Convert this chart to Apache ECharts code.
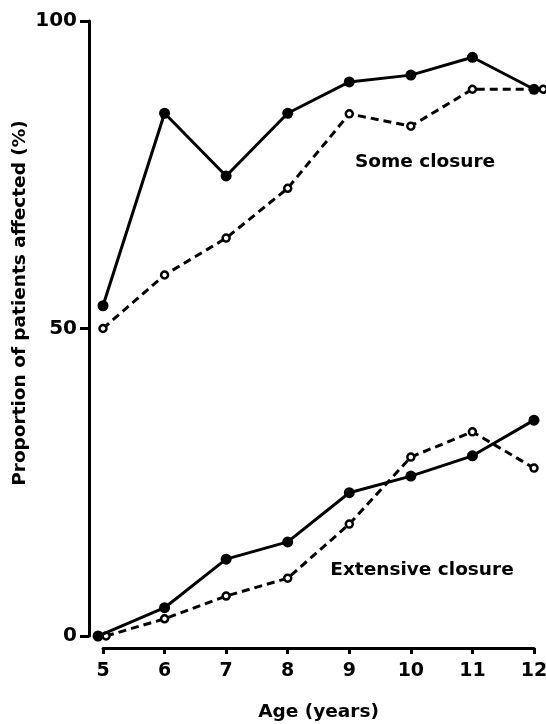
<!DOCTYPE html>
<html>
<head>
<meta charset="utf-8">
<script src="https://cdn.jsdelivr.net/npm/echarts@6/dist/echarts.min.js"></script>
<style>
  html, body { margin: 0; padding: 0; background: #fff; }
  #chart { width: 546px; height: 724px; }
</style>
</head>
<body>
<div id="chart"></div>
<script>
// Возраст (лет) — ось X
const ages = [5, 6, 7, 8, 9, 10, 11, 12];
// положение точек по X, где точки в оригинале сдвинуты, чтобы не перекрываться
const agesSomeFilled = [5, 6, 7, 8, 9, 10, 11, 12];
const agesSomeOpen   = [5, 6, 7, 8, 9, 10, 11, 12.15];
const agesExtFilled  = [4.92, 6, 7, 8, 9, 10, 11, 12];
const agesExtOpen    = [5.05, 6, 7, 8, 9, 10, 11, 12];

// Доля пациентов (%)
const someFilled = [53.7, 85.0, 74.8, 85.0, 90.1, 91.2, 94.1, 88.9];
const someOpen   = [50, 58.7, 64.7, 72.8, 84.9, 82.9, 88.9, 88.9];
const extFilled  = [0, 4.6, 12.5, 15.3, 23.3, 26.0, 29.3, 35.1];
const extOpen    = [0, 2.8, 6.5, 9.4, 18.2, 29.1, 33.2, 27.3];

const yTicks = [0, 50, 100];

const FONT = '"DejaVu Sans", sans-serif';
const pairs = (xs, ys) => xs.map((x, i) => [x, ys[i]]);

const solid = (name, xs, ys) => ({
  name, type: 'line', data: pairs(xs, ys), clip: false,
  symbol: 'circle', symbolSize: 11,
  itemStyle: { color: '#000' },
  lineStyle: { color: '#000', width: 3 },
  z: 3,
});
const dashed = (name, xs, ys) => ({
  name, type: 'line', data: pairs(xs, ys), clip: false,
  symbol: 'circle', symbolSize: 7,
  itemStyle: { color: '#fff', borderColor: '#000', borderWidth: 2.5 },
  lineStyle: { color: '#000', width: 3, type: [8, 5] },
  z: 2,
});

const chart = echarts.init(document.getElementById('chart'));
chart.setOption({
  backgroundColor: '#fff',
  animation: false,
  grid: { left: 103, right: 12, top: 21, bottom: 88, outerBoundsMode: 'none' },
  xAxis: {
    type: 'value', min: ages[0], max: ages[ages.length - 1], interval: 1,
    offset: 12,
    name: 'Age (years)', nameLocation: 'middle', nameGap: 55,
    nameTextStyle: { color: '#000', fontFamily: FONT, fontWeight: 'bold', fontSize: 18.5 },
    axisLine: { onZero: false, lineStyle: { color: '#000', width: 3 } },
    axisTick: { length: 6, lineStyle: { color: '#000', width: 3 } },
    axisLabel: { color: '#000', fontFamily: FONT, fontWeight: 'bold', fontSize: 19, margin: 14 },
    splitLine: { show: false },
  },
  yAxis: {
    type: 'value', min: yTicks[0], max: yTicks[yTicks.length - 1], interval: 50,
    offset: 14,
    axisLine: { show: true, onZero: false, lineStyle: { color: '#000', width: 3 } },
    axisTick: { show: true, length: 9, lineStyle: { color: '#000', width: 3 } },
    axisLabel: { color: '#000', fontFamily: FONT, fontWeight: 'bold', fontSize: 20, margin: 12 },
    splitLine: { show: false },
  },
  series: [
    solid('Some closure (filled)', agesSomeFilled, someFilled),
    dashed('Some closure (open)', agesSomeOpen, someOpen),
    solid('Extensive closure (filled)', agesExtFilled, extFilled),
    dashed('Extensive closure (open)', agesExtOpen, extOpen),
  ],
  graphic: [
    {
      type: 'text', x: 20, y: 303, rotation: Math.PI / 2,
      style: {
        text: 'Proportion of patients affected (%)', fill: '#000',
        font: 'bold 18.5px "DejaVu Sans", sans-serif',
        textAlign: 'center', textVerticalAlign: 'middle',
      },
    },
    {
      type: 'text', x: 425, y: 162,
      style: {
        text: 'Some closure', fill: '#000',
        font: 'bold 18.5px "DejaVu Sans", sans-serif',
        textAlign: 'center', textVerticalAlign: 'middle',
      },
    },
    {
      type: 'text', x: 422, y: 570,
      style: {
        text: 'Extensive closure', fill: '#000',
        font: 'bold 18.5px "DejaVu Sans", sans-serif',
        textAlign: 'center', textVerticalAlign: 'middle',
      },
    },
  ],
});
</script>
</body>
</html>
